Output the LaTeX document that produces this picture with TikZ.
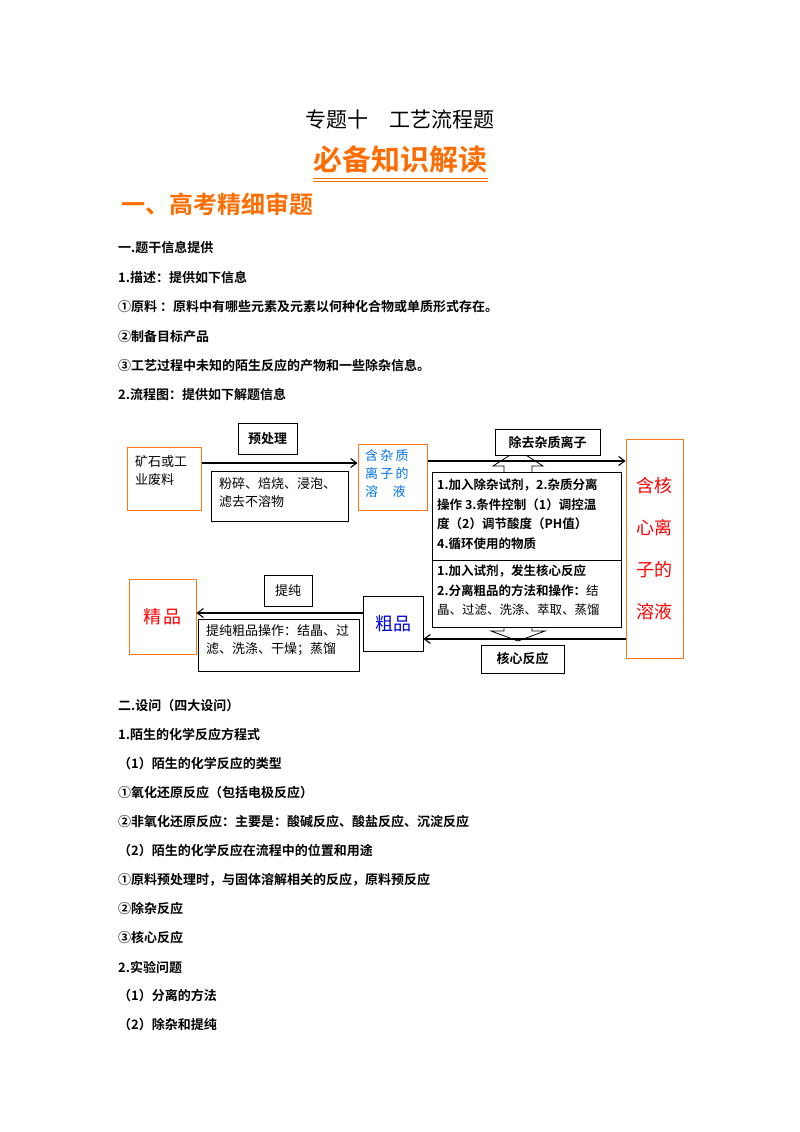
\documentclass[tikz,border=0pt]{standalone}
\usepackage{fontspec}
\usetikzlibrary{arrows.meta}
\setmainfont{Noto Sans CJK SC}[BoldFont={Noto Sans CJK SC Bold}]
\begin{document}
\begin{tikzpicture}[x=1pt,y=-1pt,
  bx/.style={draw,line width=0.9pt,inner sep=0pt},
  ob/.style={draw=orange!80!red!90,line width=1pt,inner sep=0pt},
  txt/.style={anchor=west,font=\fontsize{13}{16}\selectfont\bfseries,inner sep=0pt},
  arr/.style={-{Straight Barb[length=6pt,width=9pt]},line width=1.1pt},
  bt/.style={font=\fontsize{13}{15}\selectfont,align=left,anchor=north west,inner sep=0pt}]
\useasboundingbox (0,0) rectangle (800,1132);
\node[font=\fontsize{21}{24}\selectfont] (t1) at (400,120) {专题十\hspace{1em}工艺流程题};
\node[font=\fontsize{29}{32}\selectfont\bfseries,text=orange!85!red] (t2) at (400,160) {必备知识解读};
\draw[orange!85!red,line width=0.8pt] (313,178)--(488,178) (313,181.5)--(488,181.5);
\node[anchor=west,font=\fontsize{24}{28}\selectfont\bfseries,text=orange!85!red] (t3) at (118,204) {一、高考精细审题};
\foreach \y/\s [count=\i] in {248/一.题干信息提供,278/1.描述：提供如下信息,307/①原料 ：原料中有哪些元素及元素以何种化合物或单质形式存在。,337/②制备目标产品,366/③工艺过程中未知的陌生反应的产物和一些除杂信息。,395/2.流程图：提供如下解题信息,706/二.设问（四大设问）,735/1.陌生的化学反应方程式,764/（1）陌生的化学反应的类型,793/①氧化还原反应（包括电极反应）,822/②非氧化还原反应：主要是：酸碱反应、酸盐反应、沉淀反应,851/（2）陌生的化学反应在流程中的位置和用途,880/①原料预处理时，与固体溶解相关的反应，原料预反应,909/②除杂反应,938/③核心反应,967/2.实验问题,996/（1）分离的方法,1025/（2）除杂和提纯}
  \node[txt] (l\i) at (118,\y) {\s};
% hollow arrows
\draw[line width=0.8pt,fill=white] (504,472)--(504,466)--(493,466)--(518,450)--(543,466)--(532,466)--(532,472);
\draw[line width=0.8pt,fill=white] (504,627)--(504,631)--(491,631)--(518,641)--(545,631)--(532,631)--(532,627);
% boxes
\node[bx,minimum width=59pt,minimum height=31pt,font=\fontsize{13}{15}\selectfont\bfseries] (pre) at (267.5,438.5) {预处理};
\node[ob,minimum width=74pt,minimum height=63pt] (ore) at (164,478.5) {};
\node[bt] at (135,455) {矿石或工\\[3pt]业废料};
\node[bx,minimum width=137pt,minimum height=50pt] (crush) at (279.5,496) {};
\node[bt] at (219,477) {粉碎、焙烧、浸泡、\\[3pt]滤去不溶物};
\node[ob,minimum width=69pt,minimum height=66pt] (imp) at (392.5,477) {};
\node[bt,text=blue!50!cyan!90!black] at (365,449) {含\,杂\,质\\[3pt]离\,子\,的\\[3pt]溶\hspace{1.1em}液};
\node[bx,fill=white,minimum width=105pt,minimum height=26pt,font=\fontsize{13}{15}\selectfont\bfseries] (rem) at (547.5,442) {除去杂质离子};
\node[ob,minimum width=57pt,minimum height=219pt] (core) at (654.5,548.5) {};
\node[font=\fontsize{18}{22}\selectfont,text=red,align=center] at (654.5,548.5) {含核\\[20pt]心离\\[20pt]子的\\[20pt]溶液};
\node[bx,minimum width=189pt,minimum height=155pt] (big) at (526.5,549.5) {};
\draw[line width=0.9pt] (big.west |- 0,560)--(big.east |- 0,560);
\node[bt,font=\fontsize{12.5}{19.5}\selectfont\bfseries] at (437,479) {1.加入除杂试剂，2.杂质分离\\操作 3.条件控制（1）调控温\\度（2）调节酸度（PH值）\\4.循环使用的物质};
\node[bt,font=\fontsize{12.5}{19.5}\selectfont] at (437,565) {\textbf{1.加入试剂，发生核心反应}\\\textbf{2.分离粗品的方法和操作：}结\\晶、过滤、洗涤、萃取、蒸馏};
\node[bx,minimum width=83pt,minimum height=28pt,font=\fontsize{13}{15}\selectfont\bfseries] (cr) at (522.5,659) {核心反应};
\node[bx,minimum width=60pt,minimum height=55pt,font=\fontsize{18}{20}\selectfont,text=blue!85!black] (crude) at (393,623.5) {粗品};
\node[bx,minimum width=48pt,minimum height=31pt,font=\fontsize{13}{15}\selectfont] (pur) at (288,590.5) {提纯};
\node[ob,minimum width=67pt,minimum height=75pt,font=\fontsize{18}{20}\selectfont,text=red] (fine) at (162.5,617) {精\,品};
\node[bx,minimum width=161pt,minimum height=52pt] (pp) at (278.5,645) {};
\node[bt] at (206,624) {提纯粗品操作：结晶、过\\[3pt]滤、洗涤、干燥；蒸馏};
% arrows
\draw[arr] (ore.east |- 0,463) -- (imp.west |- 0,463);
\draw[arr] (imp.east |- 0,461) -- (core.west |- 0,461);
\draw[arr] (core.west |- 0,639) -- (crude.east |- 0,639);
\draw[arr] (crude.west |- 0,613) -- (fine.east |- 0,613);
\end{tikzpicture}
\end{document}
